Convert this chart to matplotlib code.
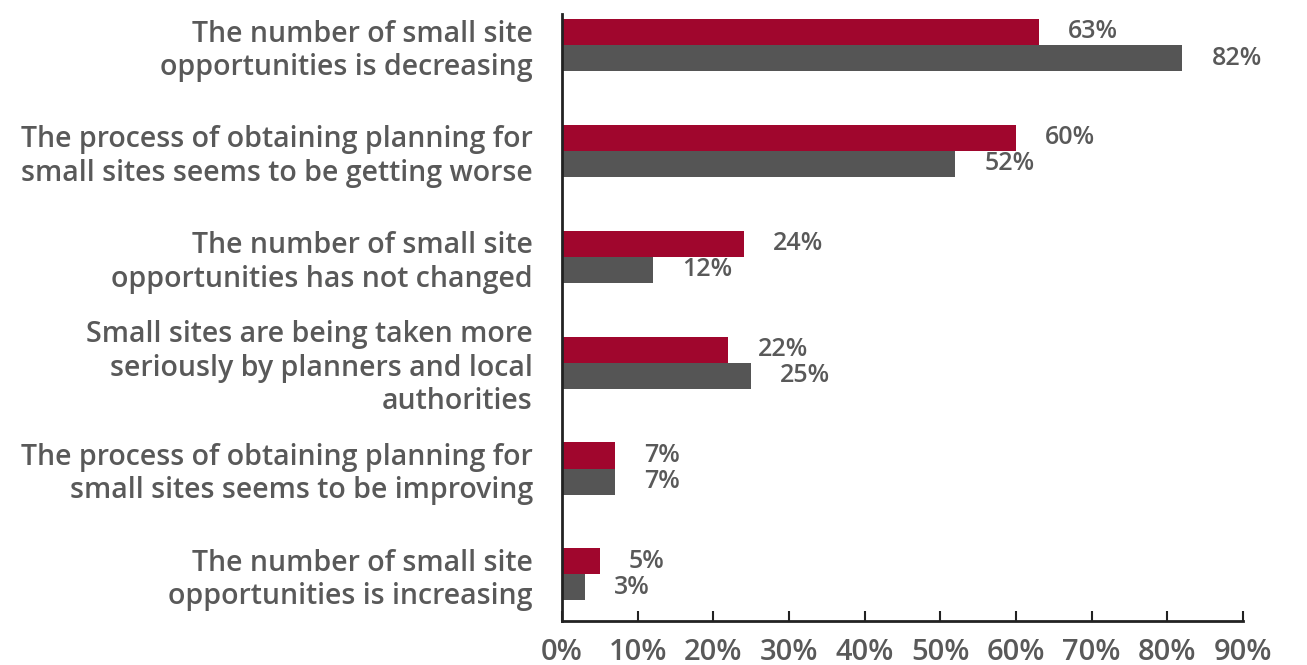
import matplotlib
matplotlib.use("Agg")
import matplotlib.pyplot as plt
import numpy as np

plt.rcParams['font.family'] = ['Open Sans', 'DejaVu Sans']
plt.rcParams['font.weight'] = 'semibold'

categories = [
    "The number of small site\nopportunities is decreasing",
    "The process of obtaining planning for\nsmall sites seems to be getting worse",
    "The number of small site\nopportunities has not changed",
    "Small sites are being taken more\nseriously by planners and local\nauthorities",
    "The process of obtaining planning for\nsmall sites seems to be improving",
    "The number of small site\nopportunities is increasing",
]
series_red = [63, 60, 24, 22, 7, 5]
series_grey = [82, 52, 12, 25, 7, 3]
xticks = [0, 10, 20, 30, 40, 50, 60, 70, 80, 90]

RED = "#A0062D"
GREY = "#555555"
TEXT = "#595959"

fig = plt.figure(figsize=(13.07, 6.65), dpi=100)
ax = fig.add_axes([562/1307, 1-621/665, (1243-562)/1307, (621-14)/665])

y = np.arange(len(categories))
h = 0.246
ax.barh(y - h/2, series_red, height=h, color=RED)
ax.barh(y + h/2, series_grey, height=h, color=GREY)

for yi, v in zip(y - h/2, series_red):
    ax.annotate(f"{v}%", (v, yi), xytext=(21, 0), textcoords="offset points",
                va="center", ha="left", fontsize=18, color=TEXT)
for yi, v in zip(y + h/2, series_grey):
    ax.annotate(f"{v}%", (v, yi), xytext=(21, 0), textcoords="offset points",
                va="center", ha="left", fontsize=18, color=TEXT)

ax.set_xlim(0, 90)
ax.set_ylim(5.44, -0.293)
ax.set_xticks(xticks)
ax.set_xticklabels([f"{t}%" for t in xticks], fontsize=21, color=TEXT)
ax.set_yticks(y)
ax.set_yticklabels(categories, fontsize=20.5, color=TEXT, linespacing=1.2)

ax.tick_params(axis='x', direction='in', length=7, width=1.5, pad=12, color="#222222")
ax.tick_params(axis='y', length=0, pad=21)

for s in ['top', 'right']:
    ax.spines[s].set_visible(False)
for s in ['left', 'bottom']:
    ax.spines[s].set_linewidth(2)
    ax.spines[s].set_color("#222222")

fig.savefig("out.png", dpi=100)
